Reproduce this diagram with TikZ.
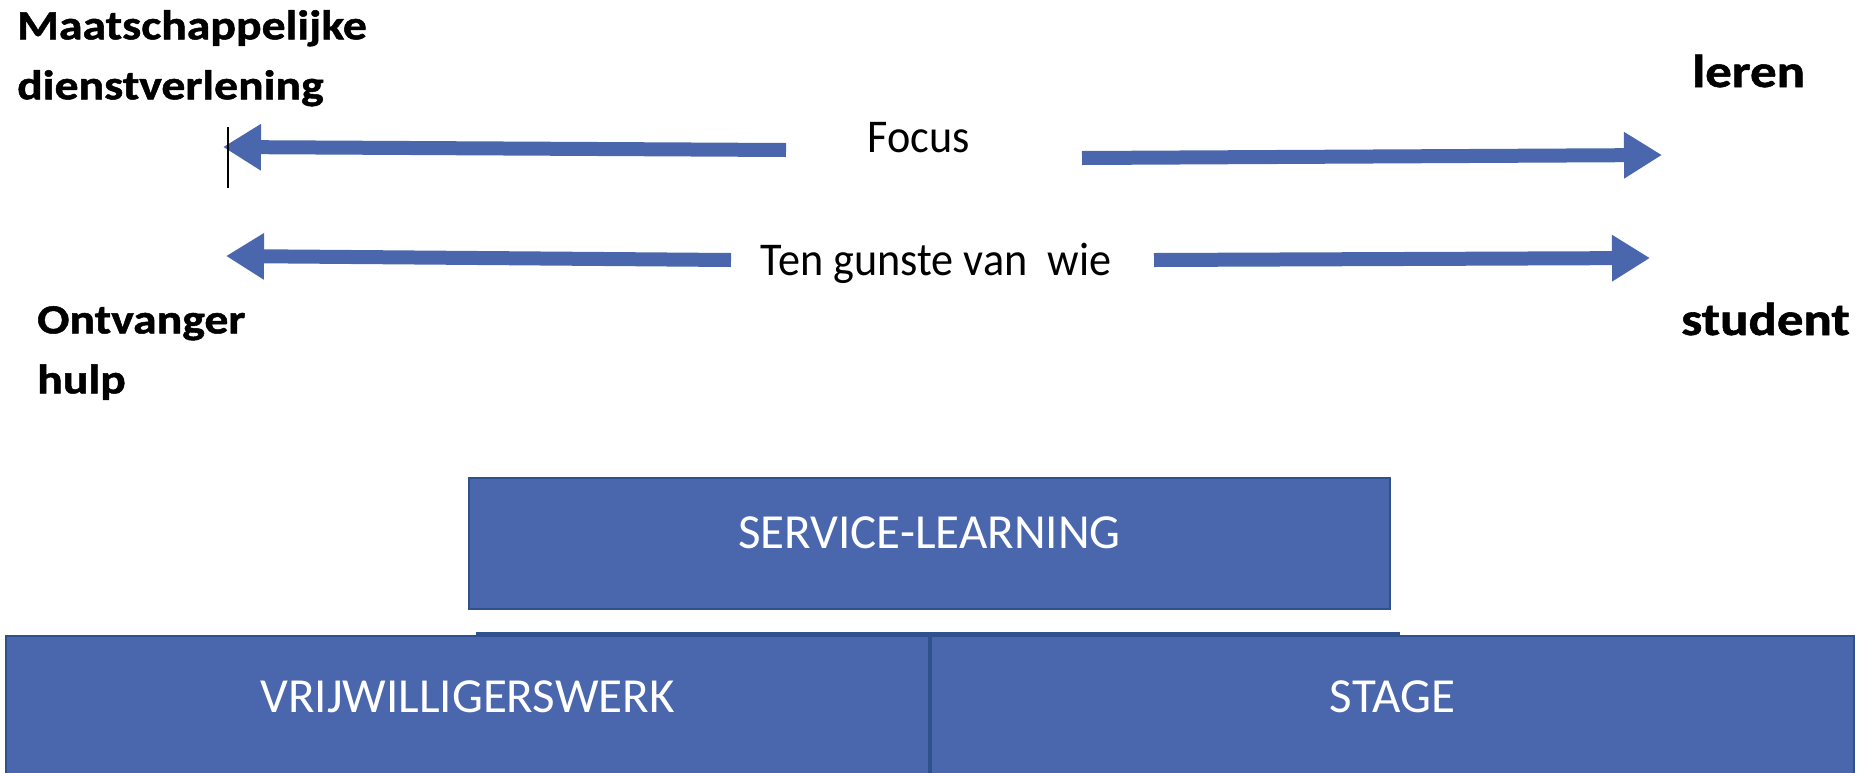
\documentclass[tikz,border=0pt]{standalone}
\usepackage{fontspec}
\setmainfont{Carlito}
\newfontfamily\poolfont[FakeStretch=1.15, FakeBold=1.2]{Carlito}
\newfontfamily\asfont[FakeStretch=0.94]{Carlito}
\usetikzlibrary{arrows.meta, positioning}

\definecolor{slblauw}{HTML}{4A66AC}
\definecolor{slrand}{HTML}{2F528F}

\tikzset{
  blokpijl/.style={draw=slblauw, line width=14pt, -{Triangle[length=38pt, width=44pt]}},
  pool/.style={font=\poolfont\bfseries\fontsize{41.5}{60}\selectfont, align=left, inner sep=0pt},
  poolrechts/.style={pool, font=\poolfont\bfseries\fontsize{46}{60}\selectfont},
  as/.style={font=\asfont\fontsize{47}{52}\selectfont, inner sep=0pt},
  blok/.style={rectangle, draw=slrand, line width=2pt, fill=slblauw, text=white, font=\fontsize{49}{58}\selectfont, text depth=22pt, inner sep=0pt},
}

\begin{document}
\begin{tikzpicture}[x=1pt, y=-1pt]
		\useasboundingbox (0,0) rectangle (1865,772);
		% polen van de twee assen
		\node[pool, anchor=north west] (mdv) at (17,10) {Maatschappelijke\\dienstverlening};
		\node[pool, anchor=north west] (ontvanger) at (37,306) {Ontvanger\\hulp};
		\node[poolrechts, anchor=base west] (leren) at (1692,87) {leren};
		\node[poolrechts, anchor=base west] (student) at (1681,335) {student};
		% assen
		\node[as, anchor=base] (focus) at (919,152) {Focus};
		\node[as, anchor=base] (gunst) at (936,275) {Ten gunste van~ wie};
		\coordinate (focusL) at (786,150);
		\coordinate (focusR) at (1082,158);
		\coordinate (tipMDV) at (223,147);
		\coordinate (tipLeren) at (1662,155);
		\coordinate (gunstL) at (731,260);
		\coordinate (gunstR) at (1154,260);
		\coordinate (tipHulp) at (226,256);
		\coordinate (tipStudent) at (1650,258);
		\draw[blokpijl] (focusL) -- (tipMDV);
		\draw[blokpijl] (focusR) -- (tipLeren);
		\draw[blokpijl] (gunstL) -- (tipHulp);
		\draw[blokpijl] (gunstR) -- (tipStudent);
		\draw[line width=1.5pt] (228,127) -- (228,188);
		% blokken
		\node[blok, minimum width=921pt, minimum height=131pt] (servicel) at (929.5,543.5) {SERVICE-LEARNING};
		\node[blok, minimum width=923pt, minimum height=144pt] (vrijwillig) at (467.5,708) {VRIJWILLIGERSWERK};
		\node[blok, minimum width=923pt, minimum height=144pt, right=0pt of vrijwillig] (stage) {STAGE};
		\draw[slrand, line width=3pt] (476,633) -- (1400,633);
\end{tikzpicture}
\end{document}
